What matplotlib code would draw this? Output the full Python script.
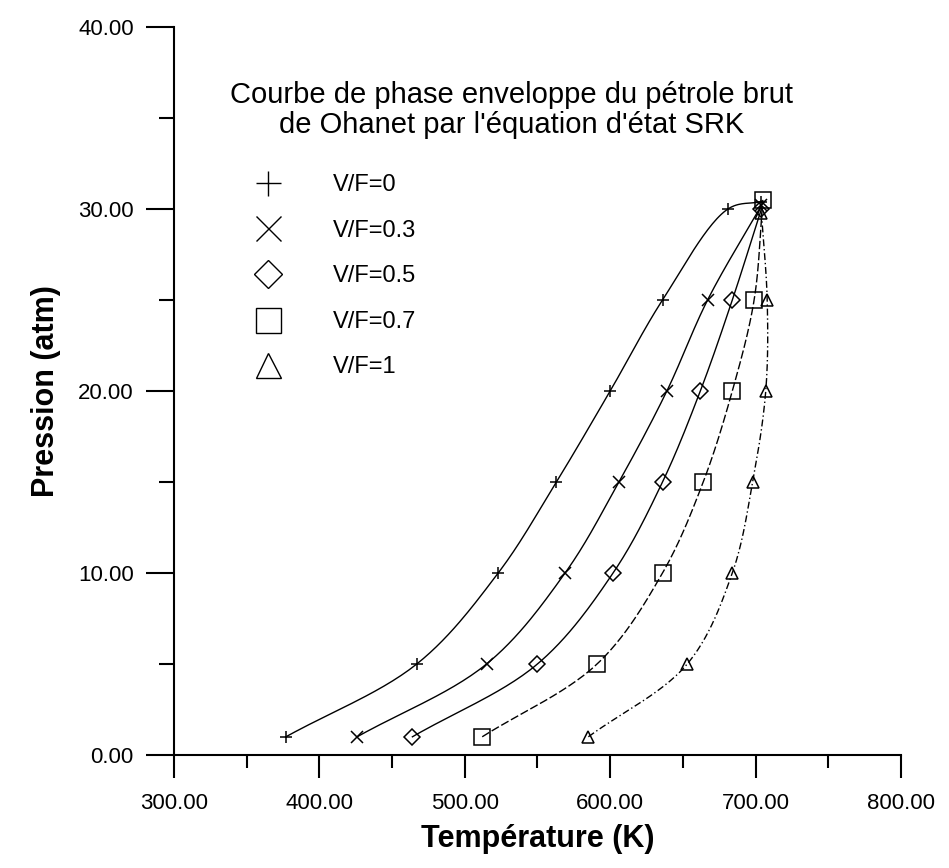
import numpy as np
import matplotlib
matplotlib.use("Agg")
import matplotlib.pyplot as plt
from matplotlib.lines import Line2D
from matplotlib.ticker import MultipleLocator, FormatStrFormatter

plt.rcParams['font.family'] = ['Liberation Sans', 'DejaVu Sans']

# Phase envelope of Ohanet crude (SRK), one curve per vapour fraction
labels = ["V/F=0", "V/F=0.3", "V/F=0.5", "V/F=0.7", "V/F=1"]
markers = ["+", "x", "D", "s", "^"]

temp_vf0 = [377, 467, 523, 563, 600, 636, 681, 704]
pres_vf0 = [1, 5, 10, 15, 20, 25, 30, 30.4]

temp_vf03 = [426, 515, 569, 606, 639, 667, 704]
pres_vf03 = [1, 5, 10, 15, 20, 25, 30.2]

temp_vf05 = [464, 550, 602, 636, 662, 684, 704]
pres_vf05 = [1, 5, 10, 15, 20, 25, 30.0]

temp_vf07 = [512, 591, 636, 664, 684, 699, 705]
pres_vf07 = [1, 5, 10, 15, 20, 25, 30.5]

temp_vf1 = [585, 653, 684, 698, 707, 708, 704]
pres_vf1 = [1, 5, 10, 15, 20, 25, 29.8]

series = [(temp_vf0, pres_vf0), (temp_vf03, pres_vf03), (temp_vf05, pres_vf05),
          (temp_vf07, pres_vf07), (temp_vf1, pres_vf1)]


def smooth_path(x, y, n=30):
    """Centripetal Catmull-Rom curve through the given points (in scaled units)."""
    sx, sy = 1 / 500.0, 1 / 40.0
    p = np.column_stack([np.asarray(x, float) * sx, np.asarray(y, float) * sy])
    p = np.vstack([2 * p[0] - p[1], p, 2 * p[-1] - p[-2]])
    out = []
    for i in range(1, len(p) - 2):
        p0, p1, p2, p3 = p[i - 1], p[i], p[i + 1], p[i + 2]
        t0 = 0.0
        t1 = t0 + np.linalg.norm(p1 - p0) ** 0.5
        t2 = t1 + np.linalg.norm(p2 - p1) ** 0.5
        t3 = t2 + np.linalg.norm(p3 - p2) ** 0.5
        t = np.linspace(t1, t2, n)[:, None]
        a1 = (t1 - t) / (t1 - t0) * p0 + (t - t0) / (t1 - t0) * p1
        a2 = (t2 - t) / (t2 - t1) * p1 + (t - t1) / (t2 - t1) * p2
        a3 = (t3 - t) / (t3 - t2) * p2 + (t - t2) / (t3 - t2) * p3
        b1 = (t2 - t) / (t2 - t0) * a1 + (t - t0) / (t2 - t0) * a2
        b2 = (t3 - t) / (t3 - t1) * a2 + (t - t1) / (t3 - t1) * a3
        c = (t2 - t) / (t2 - t1) * b1 + (t - t1) / (t2 - t1) * b2
        out.append(c if i == 1 else c[1:])
    c = np.vstack(out)
    return c[:, 0] / sx, c[:, 1] / sy


fig = plt.figure(figsize=(9.49, 8.68), dpi=100)
ax = fig.add_axes([0.1833, 0.1302, 0.9494 - 0.1833, 0.9689 - 0.1302])

line_styles = ["-", "-", "-", (0, (6, 2)), (0, (5, 2, 1, 2))]
marker_sizes = [9, 9, 8.5, 11, 9]
for (t, p), m, ls, ms in zip(series, markers, line_styles, marker_sizes):
    cx, cy = smooth_path(t, p)
    ax.plot(cx, cy, color="black", lw=1.0, ls=ls, zorder=2)
    ax.plot(t, p, ls="none", marker=m, ms=ms, mfc="none", mec="black",
            mew=1.1, zorder=3)

ax.set_xlim(300, 800)
ax.set_ylim(0, 40)
for s in ["top", "right"]:
    ax.spines[s].set_visible(False)
for s in ["left", "bottom"]:
    ax.spines[s].set_linewidth(1.5)

ax.xaxis.set_major_locator(MultipleLocator(100))
ax.xaxis.set_minor_locator(MultipleLocator(50))
ax.yaxis.set_major_locator(MultipleLocator(10))
ax.yaxis.set_minor_locator(MultipleLocator(5))
ax.xaxis.set_major_formatter(FormatStrFormatter("%.2f"))
ax.yaxis.set_major_formatter(FormatStrFormatter("%.2f"))
ax.tick_params(axis="x", which="major", length=16.5, width=1.5, pad=11, labelsize=16)
ax.tick_params(axis="x", which="minor", length=9.5, width=1.5)
ax.tick_params(axis="y", which="major", length=20, width=1.5, pad=9, labelsize=16)
ax.tick_params(axis="y", which="minor", length=11, width=1.5)

ax.set_xlabel("Température (K)", fontsize=22, fontweight="bold", labelpad=7)
ax.set_ylabel("Pression (atm)", fontsize=22, fontweight="bold", labelpad=12)

fig.text(512 / 949, 1 - 110 / 868,
         "Courbe de phase enveloppe du pétrole brut\nde Ohanet par l'équation d'état SRK",
         ha="center", va="center", fontsize=21, linespacing=1.1)

handles = [Line2D([], [], ls="none", marker=m, ms=(14 if m == "D" else 18),
                  mfc="none", mec="black", mew=1.0) for m in markers]
ax.legend(handles, labels, loc="upper left",
          bbox_to_anchor=(250 / 949, 1 - 174 / 868), bbox_transform=fig.transFigure,
          frameon=False, fontsize=17, handlelength=1.5, handletextpad=2.0,
          labelspacing=1.0, borderpad=0, borderaxespad=0)

fig.savefig("out.png", dpi=100)
